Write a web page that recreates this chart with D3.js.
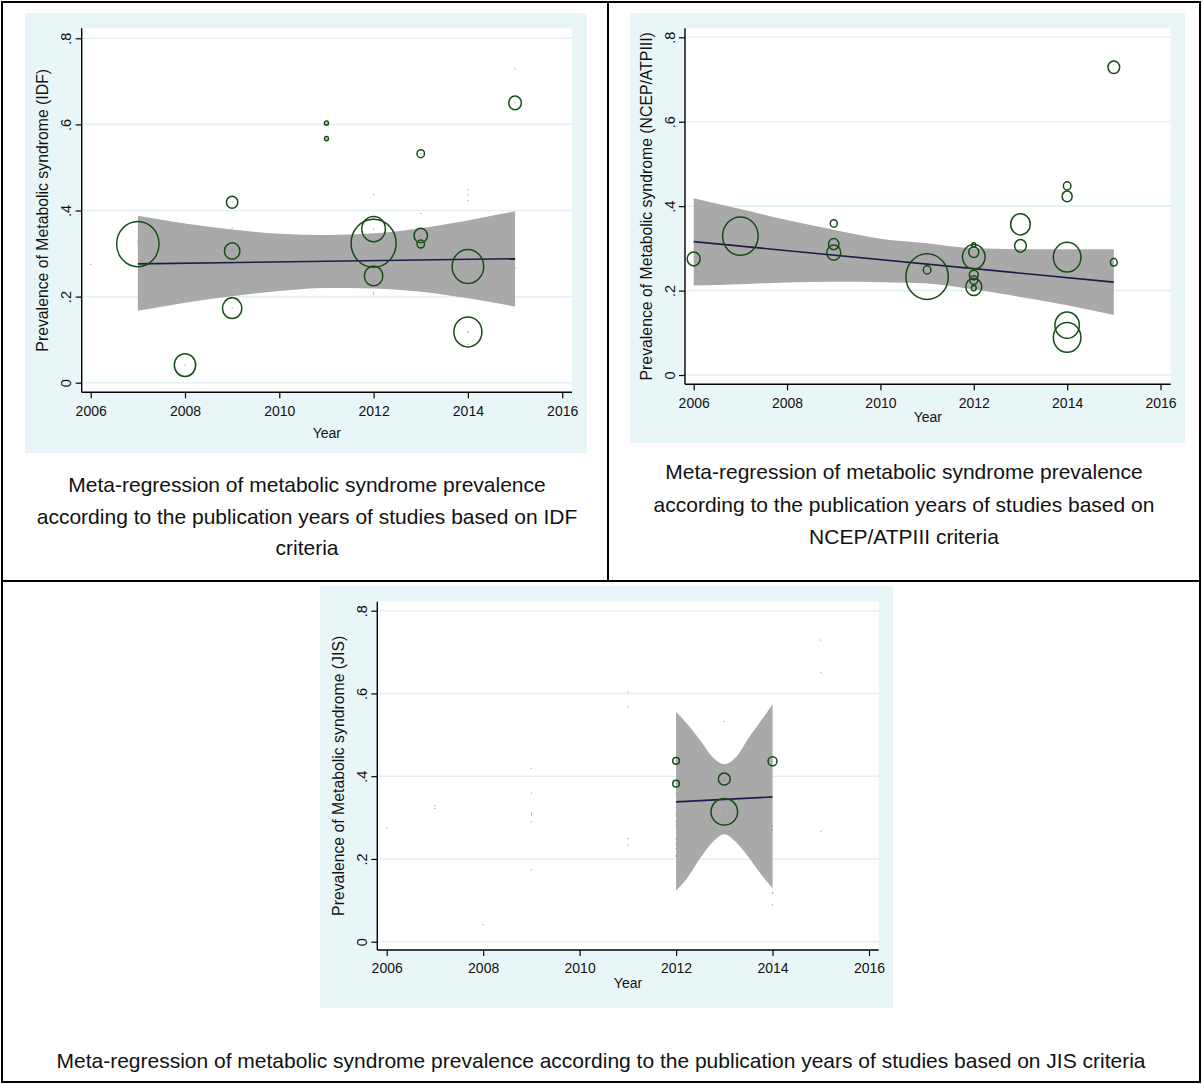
<!DOCTYPE html>
<html>
<head>
<meta charset="utf-8">
<script src="https://cdn.jsdelivr.net/npm/d3@7"></script>
<style>
  html, body { margin: 0; padding: 0; background: #fff; }
  svg { display: block; font-family: Arial, "Liberation Sans", sans-serif; }
</style>
</head>
<body>
<svg id="chart" width="1203" height="1085"></svg>
<script>
// ---------------- DATA ----------------
const xTickValues = [2006, 2008, 2010, 2012, 2014, 2016];
const yTickValues = [0, 0.2, 0.4, 0.6, 0.8];
const yTickLabels = ["0", ".2", ".4", ".6", ".8"];

// IDF criteria studies
const idfYear   = [2007, 2008, 2009, 2009, 2009, 2011, 2011, 2012, 2012, 2012, 2013, 2013, 2013, 2014, 2014, 2015];
const idfPrev   = [0.322, 0.041, 0.419, 0.306, 0.173, 0.603, 0.567, 0.357, 0.324, 0.248, 0.532, 0.342, 0.322, 0.270, 0.118, 0.650];
const idfWeight = [449, 114, 32, 59, 94, 4, 4, 139, 506, 85, 14, 45, 14, 250, 196, 40];
const idfFitYear = [2007, 2015];
const idfFit     = [0.276, 0.288];
const idfBandYear = [2007, 2008, 2009, 2010, 2011, 2012, 2013, 2014, 2015];
const idfBandLow  = [0.167, 0.186, 0.201, 0.213, 0.220, 0.219, 0.211, 0.196, 0.177];
const idfBandHigh = [0.388, 0.370, 0.356, 0.346, 0.343, 0.347, 0.359, 0.377, 0.398];

// NCEP/ATPIII criteria studies
const ncepYear   = [2006, 2007, 2009, 2009, 2009, 2011, 2011, 2012, 2012, 2012, 2012, 2012, 2012, 2012, 2013, 2013, 2014, 2014, 2014, 2014, 2014, 2015, 2015];
const ncepPrev   = [0.275, 0.329, 0.359, 0.310, 0.290, 0.233, 0.249, 0.308, 0.291, 0.280, 0.237, 0.225, 0.209, 0.206, 0.357, 0.306, 0.448, 0.423, 0.279, 0.118, 0.089, 0.729, 0.267];
const ncepWeight = [42, 317, 12, 27, 49, 449, 14, 4, 25, 128, 20, 16, 64, 6, 96, 34, 14, 25, 190, 149, 190, 34, 12];
const ncepFitYear = [2006, 2015];
const ncepFit     = [0.316, 0.220];
const ncepBandYear = [2006, 2007, 2008, 2009, 2010, 2011, 2012, 2013, 2014, 2015];
const ncepBandLow  = [0.212, 0.215, 0.219, 0.221, 0.220, 0.217, 0.203, 0.185, 0.165, 0.142];
const ncepBandHigh = [0.419, 0.393, 0.367, 0.344, 0.323, 0.312, 0.300, 0.298, 0.298, 0.298];

// JIS criteria studies
const jisYear   = [2012, 2012, 2013, 2013, 2014];
const jisPrev   = [0.437, 0.382, 0.393, 0.314, 0.436];
const jisWeight = [11, 11, 36, 177, 20];
const jisFitYear = [2012, 2014];
const jisFit     = [0.338, 0.350];
const jisBandYear = [2012, 2012.25, 2012.5, 2012.75, 2013, 2013.25, 2013.5, 2013.75, 2014];
const jisBandLow  = [0.123, 0.157, 0.202, 0.240, 0.260, 0.240, 0.205, 0.165, 0.129];
const jisBandHigh = [0.556, 0.524, 0.487, 0.447, 0.429, 0.447, 0.492, 0.532, 0.574];

const yLabels = [
  "Prevalence of Metabolic syndrome (IDF)",
  "Prevalence of Metabolic syndrome (NCEP/ATPIII)",
  "Prevalence of Metabolic syndrome (JIS)"
];
const xLabel = "Year";
const captions = [
  ["Meta-regression of metabolic syndrome prevalence",
   "according to the publication years of studies based on IDF",
   "criteria"],
  ["Meta-regression of metabolic syndrome prevalence",
   "according to the publication years of studies based on",
   "NCEP/ATPIII criteria"],
  ["Meta-regression of metabolic syndrome prevalence according to the publication years of studies based on JIS criteria"]
];

// ---------------- BUILD ----------------
function zipStudies(ys, ps, ws) { return ys.map((y, i) => ({ year: y, prev: ps[i], w: ws[i] })); }
function zipBand(ys, lo, hi) { return ys.map((y, i) => ({ year: y, lo: lo[i], hi: hi[i] })); }
function zipFit(ys, f) { return ys.map((y, i) => ({ year: y, v: f[i] })); }

const idf  = zipStudies(idfYear, idfPrev, idfWeight);
const ncep = zipStudies(ncepYear, ncepPrev, ncepWeight);
const jis  = zipStudies(jisYear, jisPrev, jisWeight);
const allStudies = idf.concat(ncep, jis);

const panels = [
  { studies: idf, fit: zipFit(idfFitYear, idfFit), band: zipBand(idfBandYear, idfBandLow, idfBandHigh),
    ylabel: yLabels[0], caption: captions[0], showAll: true,
    layout: { bg: [25, 13, 587, 453], left: 81.7, right: 572, top: 28.3, bottom: 392.3,
              x0: 90.7, x1: 562.2, y0: 382.7, y1: 38.3, ylabX: 42, tickLabY: 415.5, yearY: 438,
              aspect: 1.07, capX: 307, capY: [492, 524, 555] } },
  { studies: ncep, fit: zipFit(ncepFitYear, ncepFit), band: zipBand(ncepBandYear, ncepBandLow, ncepBandHigh),
    ylabel: yLabels[1], caption: captions[1], showAll: false,
    layout: { bg: [630, 13, 1185, 443], left: 685, right: 1170.7, top: 28.3, bottom: 384.3,
              x0: 693.7, x1: 1160.5, y0: 375, y1: 37.3, ylabX: 646, tickLabY: 407.7, yearY: 421.7,
              aspect: 1.08, capX: 904, capY: [479, 512, 544] } },
  { studies: jis, fit: zipFit(jisFitYear, jisFit), band: zipBand(jisBandYear, jisBandLow, jisBandHigh),
    ylabel: yLabels[2], caption: captions[2], showAll: true,
    layout: { bg: [320, 586, 893, 1008], left: 377.3, right: 878.7, top: 601.7, bottom: 950,
              x0: 386.7, x1: 869, y0: 941.7, y1: 610.7, ylabX: 338, tickLabY: 973, yearY: 988,
              aspect: 1.0, capX: 601, capY: [1068] } }
];

const svg = d3.select("#chart");
svg.append("rect").attr("width", 1203).attr("height", 1085).attr("fill", "#fff");

const rScale = d3.scaleSqrt().domain([0, 100]).range([0, 10]);

panels.forEach(p => {
  const L = p.layout;
  const g = svg.append("g");
  const x = d3.scaleLinear().domain([2006, 2016]).range([L.x0, L.x1]);
  const y = d3.scaleLinear().domain([0, 0.8]).range([L.y0, L.y1]);

  // outer graph region
  g.append("rect").attr("x", L.bg[0]).attr("y", L.bg[1])
    .attr("width", L.bg[2] - L.bg[0]).attr("height", L.bg[3] - L.bg[1]).attr("fill", "#e9f6f8");
  // plot region
  g.append("rect").attr("x", L.left).attr("y", L.top)
    .attr("width", L.right - L.left).attr("height", L.bottom - L.top).attr("fill", "#fff");

  // gridlines
  g.selectAll("line.grid").data(yTickValues).join("line").attr("class", "grid")
    .attr("x1", L.left).attr("x2", L.right)
    .attr("y1", d => y(d)).attr("y2", d => y(d))
    .attr("stroke", "#e3f1f5").attr("stroke-width", 1.6);

  // CI band
  const area = d3.area().x(d => x(d.year)).y0(d => y(d.lo)).y1(d => y(d.hi)).curve(d3.curveMonotoneX);
  g.append("path").datum(p.band).attr("d", area).attr("fill", "#a9a9a9");

  // fitted line
  const line = d3.line().x(d => x(d.year)).y(d => y(d.v));
  g.append("path").datum(p.fit).attr("d", line).attr("fill", "none")
    .attr("stroke", "#1c1c4c").attr("stroke-width", 1.6);

  // tiny markers for all studies
  if (p.showAll) {
    g.selectAll("rect.dot").data(allStudies).join("rect").attr("class", "dot")
      .attr("x", d => x(d.year) - 0.5).attr("y", d => y(d.prev) - 0.5)
      .attr("width", 1).attr("height", 1).attr("fill", "#8a8a8a");
  }

  // weighted bubbles
  g.selectAll("ellipse.bub").data(p.studies).join("ellipse").attr("class", "bub")
    .attr("cx", d => x(d.year)).attr("cy", d => y(d.prev))
    .attr("rx", d => rScale(d.w)).attr("ry", d => rScale(d.w) * L.aspect)
    .attr("fill", "none").attr("stroke", "#174c17").attr("stroke-width", 1.5);

  // x axis
  const xAxis = d3.axisBottom(x).tickValues(xTickValues).tickFormat(d3.format("d")).tickSize(6).tickPadding(4);
  const gx = g.append("g").attr("transform", `translate(0,${L.bottom})`).call(xAxis);
  gx.select(".domain").remove();
  gx.selectAll(".tick line").attr("stroke", "#000").attr("stroke-width", 1.2);
  gx.selectAll(".tick text").attr("font-size", 14).attr("fill", "#111")
    .attr("font-family", "Arial, 'Liberation Sans', sans-serif")
    .attr("y", null).attr("dy", null)
    .attr("transform", `translate(0,${L.tickLabY - L.bottom})`);
  g.append("line").attr("x1", L.left).attr("x2", L.right).attr("y1", L.bottom).attr("y2", L.bottom)
    .attr("stroke", "#000").attr("stroke-width", 1.4);

  // y axis
  const yAxis = d3.axisLeft(y).tickValues(yTickValues).tickFormat((d, i) => yTickLabels[i]).tickSize(6);
  const gy = g.append("g").attr("transform", `translate(${L.left},0)`).call(yAxis);
  gy.select(".domain").remove();
  gy.selectAll(".tick line").attr("stroke", "#000").attr("stroke-width", 1.2);
  gy.selectAll(".tick text").attr("font-size", 14.5).attr("fill", "#111")
    .attr("font-family", "Arial, 'Liberation Sans', sans-serif")
    .attr("x", null).attr("dy", null)
    .attr("text-anchor", "middle").attr("dominant-baseline", "central")
    .attr("transform", "translate(-15.5,0) rotate(-90)");
  g.append("line").attr("x1", L.left).attr("x2", L.left).attr("y1", L.top).attr("y2", L.bottom)
    .attr("stroke", "#000").attr("stroke-width", 1.4);

  // axis titles
  g.append("text").attr("x", (L.left + L.right) / 2).attr("y", L.yearY)
    .attr("text-anchor", "middle").attr("font-size", 14).attr("fill", "#111").text(xLabel);
  g.append("text").attr("transform", `translate(${L.ylabX},${(L.top + L.bottom) / 2}) rotate(-90)`)
    .attr("text-anchor", "middle").attr("dominant-baseline", "central")
    .attr("font-size", 15.8).attr("fill", "#111").text(p.ylabel);

  // caption
  g.selectAll("text.cap").data(p.caption).join("text").attr("class", "cap")
    .attr("x", L.capX).attr("y", (d, i) => L.capY[i])
    .attr("text-anchor", "middle").attr("font-size", 21).attr("fill", "#111").text(d => d);
});

// table frame
const frame = svg.append("g").attr("stroke", "#000").attr("stroke-width", 2).attr("fill", "none");
frame.append("rect").attr("x", 2).attr("y", 2).attr("width", 1198).attr("height", 1080);
frame.append("line").attr("x1", 2).attr("x2", 1200).attr("y1", 581).attr("y2", 581);
frame.append("line").attr("x1", 608).attr("x2", 608).attr("y1", 2).attr("y2", 581);
</script>
</body>
</html>
